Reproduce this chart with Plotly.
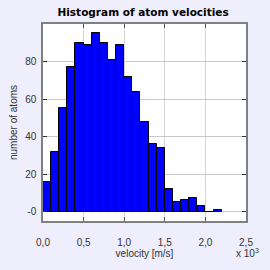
import plotly.graph_objects as go

# bin start velocities (m/s), bin width 100 m/s
bin_starts = [0, 100, 200, 300, 400, 500, 600, 700, 800, 900, 1000,
              1100, 1200, 1300, 1400, 1500, 1600, 1700, 1800, 1900, 2000, 2100]
counts = [16, 32, 55, 77, 90, 89, 95, 90, 81, 89, 72,
          64, 48, 36, 34, 12, 5, 6, 7, 3, 0, 1]
bin_width = 100

x_tickvals = [0, 500, 1000, 1500, 2000, 2500]
x_ticktext = ["0,0", "0,5", "1,0", "1,5", "2,0", "2,5"]
y_tickvals = [0, 20, 40, 60, 80]
y_ticktext = ["-0", "20", "40", "60", "80"]

centers = [b + bin_width / 2 for b in bin_starts]

fig = go.Figure(go.Bar(
    x=centers, y=counts, width=[bin_width] * len(counts),
    marker=dict(color="#0000ff", line=dict(color="#000000", width=1)),
))

axis_font = dict(family="Liberation Sans, Arial, sans-serif", size=10, color="#333333")

fig.update_layout(
    width=270, height=270,
    paper_bgcolor="#eeeefc", plot_bgcolor="#ffffff",
    margin=dict(l=41, r=24, t=24, b=42, pad=0),
    showlegend=False,
    bargap=0,
    title=dict(text="<b>Histogram of atom velocities</b>", x=0.53, xanchor="center",
               yref="container", y=1 - 12.5 / 270, yanchor="middle",
               font=dict(family="DejaVu Sans, sans-serif", size=10.5, color="#000000")),
    xaxis=dict(range=[0, 2500], tickvals=x_tickvals, ticktext=x_ticktext,
               showgrid=True, gridcolor="#d4d4d4", gridwidth=1,
               showline=True, linecolor="#808080", linewidth=1.5, mirror="ticks",
               ticks="inside", ticklen=4, tickcolor="#555555",
               zeroline=False, tickfont=axis_font, ticklabelstandoff=11,
               title=dict(text="velocity [m/s]", font=axis_font, standoff=3)),
    yaxis=dict(range=[-5, 100], tickvals=y_tickvals, ticktext=y_ticktext,
               showgrid=True, gridcolor="#c8c8c8", gridwidth=1,
               showline=True, linecolor="#808080", linewidth=1.5, mirror="ticks",
               ticks="inside", ticklen=4, tickcolor="#333333",
               zeroline=False, tickfont=axis_font, ticklabelstandoff=3,
               title=dict(text="number of atoms", font=axis_font, standoff=6)),
    annotations=[dict(text="x 10<sup>3</sup>", xref="paper", yref="paper",
                      x=1.005, y=-0.12, xanchor="center", yanchor="top",
                      showarrow=False, font=axis_font)],
)

fig.write_html(
    "out.html",
    config={"displayModeBar": False},
    post_script="document.documentElement.style.margin='0';"
                "document.body.style.margin='0';document.body.style.padding='0';"
                "document.body.style.background='#eeeefc';",
)
